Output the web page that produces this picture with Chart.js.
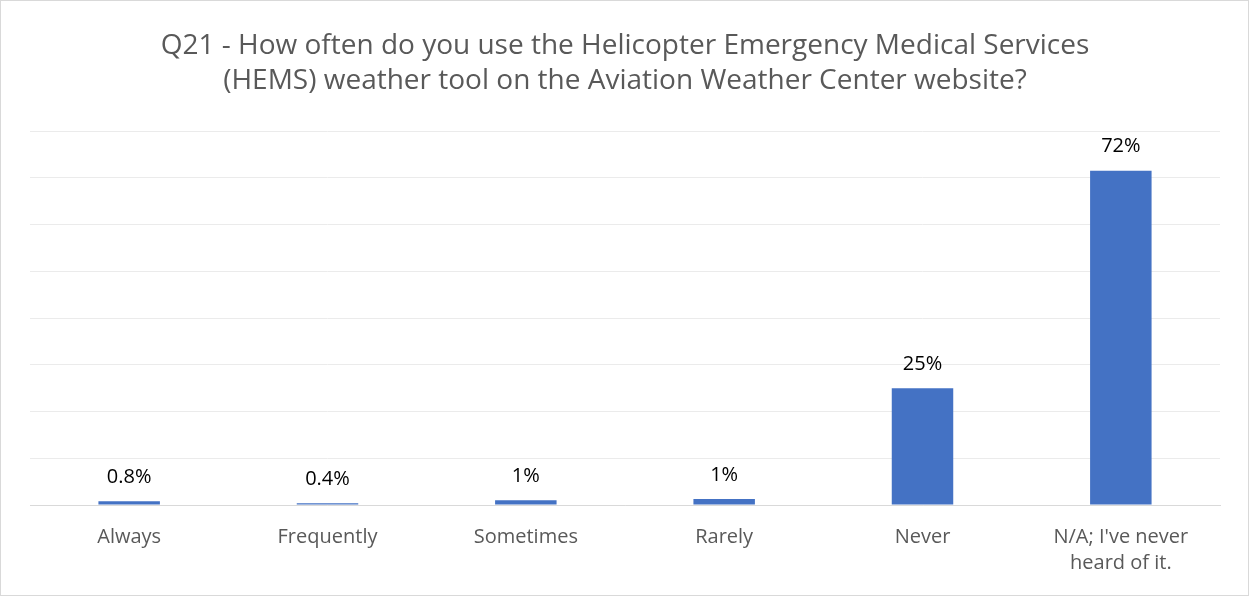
<!DOCTYPE html>
<html>
<head>
<meta charset="utf-8">
<script src="https://cdn.jsdelivr.net/npm/chart.js@4"></script>
<style>
  html, body { margin: 0; padding: 0; background: #fff; }
  #wrap { width: 1247px; height: 594px; border: 1px solid #d9d9d9; }
</style>
</head>
<body>
<div id="wrap"><canvas id="chart" width="1247" height="594"></canvas></div>
<script>
// Data
const categories = ['Always', 'Frequently', 'Sometimes', 'Rarely', 'Never', ["N/A; I've never", 'heard of it.']];
const shares = [0.8, 0.4, 1, 1.3, 25, 71.5];
const shareLabels = ['0.8%', '0.4%', '1%', '1%', '25%', '72%'];
const titleLines = [
  'Q21 - How often do you use the Helicopter Emergency Medical Services',
  '(HEMS) weather tool on the Aviation Weather Center website?'
];

const FONT = '"Open Sans", Lato, sans-serif';

// value labels above each bar
const barLabels = {
  id: 'barLabels',
  afterDatasetsDraw(chart) {
    const ctx = chart.ctx;
    const meta = chart.getDatasetMeta(0);
    ctx.save();
    ctx.font = '20px ' + FONT;
    ctx.fillStyle = '#000';
    ctx.textAlign = 'center';
    ctx.textBaseline = 'middle';
    meta.data.forEach((bar, i) => {
      ctx.fillText(shareLabels[i], bar.x, bar.y - 24);
    });
    ctx.restore();
  }
};

new Chart(document.getElementById('chart').getContext('2d'), {
  type: 'bar',
  data: {
    labels: categories,
    datasets: [{
      data: shares,
      backgroundColor: '#4472c4',
      barPercentage: 0.31,
      categoryPercentage: 1
    }]
  },
  options: {
    responsive: false,
    animation: false,
    layout: { padding: { left: 29, right: 28, top: 0, bottom: 8 } },
    plugins: {
      legend: { display: false },
      tooltip: { enabled: false },
      title: {
        display: true,
        text: titleLines,
        color: '#595959',
        font: { family: FONT, size: 28, weight: 'normal', lineHeight: 1.25 },
        padding: { top: 28, bottom: 32 }
      }
    },
    scales: {
      x: {
        grid: { display: false },
        border: { color: '#d9d9d9', width: 1 },
        ticks: { color: '#595959', font: { family: FONT, size: 20, lineHeight: 1.3 }, padding: 11, maxRotation: 0 }
      },
      y: {
        min: 0,
        max: 80,
        ticks: { stepSize: 10, display: false },
        grid: { color: '#ebebeb', drawTicks: false },
        border: { display: false }
      }
    }
  },
  plugins: [barLabels]
});
</script>
</body>
</html>
